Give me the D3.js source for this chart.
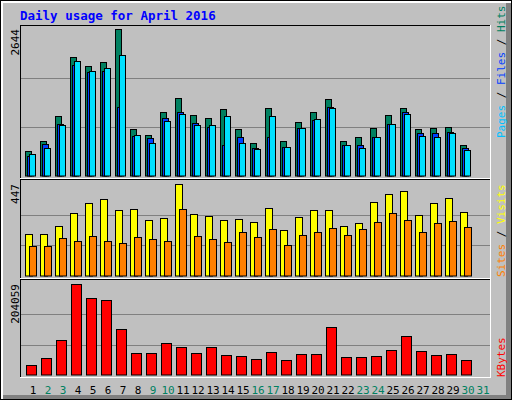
<!DOCTYPE html>
<html><head><meta charset="utf-8">
<script src="https://cdn.jsdelivr.net/npm/d3@7"></script>
<style>body{margin:0;background:#fff}</style></head>
<body><svg id="c" width="512" height="400"></svg>
<script>
const days = d3.range(1,32);
const weekend = [2,3,9,10,16,17,23,24,30,31];
const hits  = [450,630,1080,2142,1980,2052,2644,846,738,1152,1404,1098,1044,1206,846,594,1224,630,972,1152,1386,630,702,864,1098,1224,846,864,882,558,0];
const files = [360,576,936,1998,1872,1890,1242,720,684,1044,1152,954,882,558,702,504,702,522,864,1008,1242,558,558,702,936,1152,774,774,792,504,0];
const pages = [396,504,918,2070,1890,1944,2178,738,594,990,1116,918,918,1080,594,486,1080,522,864,1026,1224,558,504,702,936,1116,720,702,774,468,0];
const visits= [203,203,241,305,353,373,319,324,271,280,447,300,290,271,276,261,329,222,285,319,319,241,256,358,397,412,295,353,378,310,0];
const sites = [144,144,183,169,193,169,159,188,178,169,324,193,178,164,212,188,227,149,198,212,232,198,227,261,305,271,212,256,266,237,0];
const kbytes= [22424,38120,78480,204059,172660,168180,103150,49330,49330,71760,62790,49330,62790,44850,42600,35880,51580,33640,47090,47090,107640,40360,40360,42600,56060,87450,53820,44850,47090,33640,0];
const maxTop=2644, maxMid=447, maxBot=204059;
const title="Daily usage for April 2016";

const svg=d3.select("#c");
const F="DejaVu Sans Mono, monospace";
// frame
svg.append("rect").attr("x",0).attr("y",0).attr("width",512).attr("height",400).attr("fill","#000");
svg.append("rect").attr("x",1).attr("y",1).attr("width",510).attr("height",398).attr("fill","#fff");
svg.append("rect").attr("x",3).attr("y",3).attr("width",508).attr("height",396).attr("fill","#808080");
svg.append("rect").attr("x",3).attr("y",3).attr("width",503).attr("height",392).attr("fill","#C0C0C0");
svg.append("text").attr("x",20).attr("y",20).attr("font-family",F).attr("font-weight","bold").attr("font-size",12.5).attr("fill","#0000FF").text(title);

const x=d3.scaleBand().domain(days).range([25,25+15*31]).paddingInner(0);
function panel(y0,y1){
  svg.append("rect").attr("x",20).attr("y",y0).attr("width",471).attr("height",y1-y0).attr("fill","#C0C0C0");
  svg.append("line").attr("x1",20).attr("x2",491).attr("y1",y0+0.5).attr("y2",y0+0.5).attr("stroke","#000");
  svg.append("line").attr("x1",20.5).attr("x2",20.5).attr("y1",y0).attr("y2",y1).attr("stroke","#000");
  svg.append("line").attr("x1",490.5).attr("x2",490.5).attr("y1",y0).attr("y2",y1).attr("stroke","#fff");
  svg.append("line").attr("x1",20).attr("x2",491).attr("y1",y1+0.5).attr("y2",y1+0.5).attr("stroke","#fff");
}
function grid(y){ [1/3,2/3].forEach(f=>svg.append("line").attr("x1",21).attr("x2",490).attr("y1",Math.round(y(y.domain()[1]*f))+0.5).attr("y2",Math.round(y(y.domain()[1]*f))+0.5).attr("stroke","#808080"));}
function bars(data,y,off,w,col){
  svg.append("g").selectAll("rect").data(data.map((v,i)=>({d:days[i],v})).filter(o=>o.v>0)).join("rect")
   .attr("x",o=>x(o.d)+off+0.5).attr("y",o=>Math.round(y(o.v))+0.5).attr("width",w).attr("height",o=>y(0)-Math.round(y(o.v))-0.5)
   .attr("fill",col).attr("stroke","#000");
}
function lefttxt(t,y){svg.append("text").attr("transform",`translate(19,${y}) rotate(-90)`).attr("text-anchor","end").attr("font-family",F).attr("font-size",11).attr("fill","#000").text(t);}
function righttxt(parts,ybottom){
  const t=svg.append("text").attr("transform",`translate(505,${ybottom}) rotate(-90)`).attr("font-family",F).attr("font-size",11);
  parts.forEach(p=>t.append("tspan").attr("fill",p[1]).text(p[0]));
}
// top
panel(25,178);
const yT=d3.scaleLinear().domain([0,maxTop]).range([176,29]);
grid(yT);
bars(hits,yT,0,6,"#008060");
bars(files,yT,2,6,"#0040FF");
bars(pages,yT,4,6,"#00E0FF");
lefttxt(String(maxTop),29);
righttxt([["Pages","#00C0FF"],[" / ","#000"],["Files","#0040FF"],[" / ","#000"],["Hits","#008060"]],138);
// mid
panel(179,278);
const yM=d3.scaleLinear().domain([0,maxMid]).range([276,184]);
grid(yM);
bars(visits,yM,0,7,"#FFFF00");
bars(sites,yM,4,7,"#FF8000");
lefttxt(String(maxMid),184);
righttxt([["Sites","#FF8000"],[" / ","#000"],["Visits","#FFFF00"]],277);
// bottom
panel(279,377);
const yB=d3.scaleLinear().domain([0,maxBot]).range([375,284]);
grid(yB);
bars(kbytes,yB,1,10,"#FF0000");
lefttxt(String(maxBot),284);
righttxt([["KBytes","#FF0000"]],377);
// day labels
svg.append("g").selectAll("text").data(days).join("text").attr("x",d=>x(d)+8).attr("y",394)
 .attr("text-anchor","middle").attr("font-family",F).attr("font-size",11)
 .attr("fill",d=>weekend.includes(d)?"#008060":"#000").text(d=>d);
</script></body></html>
